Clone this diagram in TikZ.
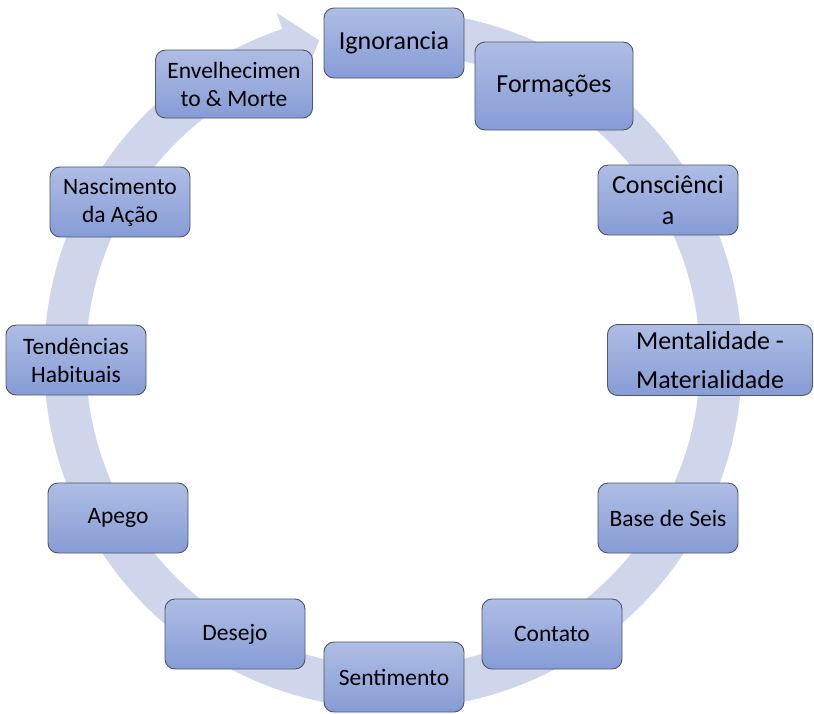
\documentclass[tikz,border=0pt]{standalone}
\usepackage{fontspec}
\setmainfont{Carlito}

\definecolor{anel}{RGB}{207,213,234}
\definecolor{caixatopo}{RGB}{174,189,228}
\definecolor{caixabase}{RGB}{134,156,214}
\definecolor{borda}{RGB}{78,86,104}

\begin{document}
\begin{tikzpicture}[x=1pt,y=-1pt,
  etapa/.style={draw=borda, line width=0.9pt, rounded corners=10pt,
    top color=caixatopo, bottom color=caixabase, text=black, align=center,
    minimum width=140pt, minimum height=70pt, inner sep=2pt,
    font=\fontsize{23.5}{28}\selectfont},
  grande/.style={font=\fontsize{26}{31}\selectfont}]
\useasboundingbox (0,0) rectangle (814,713);

% Centre of the cycle
\coordinate (centro) at (393,360);

% Wide circular arrow behind the boxes
\fill[anel] ([shift={(88:349pt)}]centro)
  arc[start angle=88, end angle=-251.5, radius=349pt]
  -- ([shift={(-251.5:366pt)}]centro)
  -- ([shift={(-257:328pt)}]centro)
  -- ([shift={(-251.5:290pt)}]centro)
  -- ([shift={(-251.5:307pt)}]centro)
  arc[start angle=-251.5, end angle=88, radius=307pt]
  -- cycle;

% The twelve stages, clockwise from the top
\node[etapa, grande] (ignorancia) at (394,43) {Ignorancia};
\node[etapa, grande, minimum width=158pt, minimum height=88pt] (formacoes) at (554,86) {Formações};
\node[etapa, grande] (consciencia) at (668,200) {Consciênci\\a};
\node[etapa, minimum width=205pt, minimum height=71pt, font=\fontsize{26}{39}\selectfont] (mentalidade) at (710,360) {Mentalidade -\\Materialidade};
\node[etapa] (base) at (668,518) {Base de Seis};
\node[etapa] (contato) at (552,634) {Contato};
\node[etapa] (sentimento) at (394,677) {Sentimento};
\node[etapa] (desejo) at (235,634) {Desejo};
\node[etapa] (apego) at (118,518) {Apego};
\node[etapa] (tendencias) at (76,360) {Tendências\\Habituais};
\node[etapa] (nascimento) at (120,202) {Nascimento\\da Ação};
\node[etapa, minimum width=157pt, minimum height=68pt] (envelhecimento) at (234,84) {Envelhecimen\\to \& Morte};
\end{tikzpicture}
\end{document}
